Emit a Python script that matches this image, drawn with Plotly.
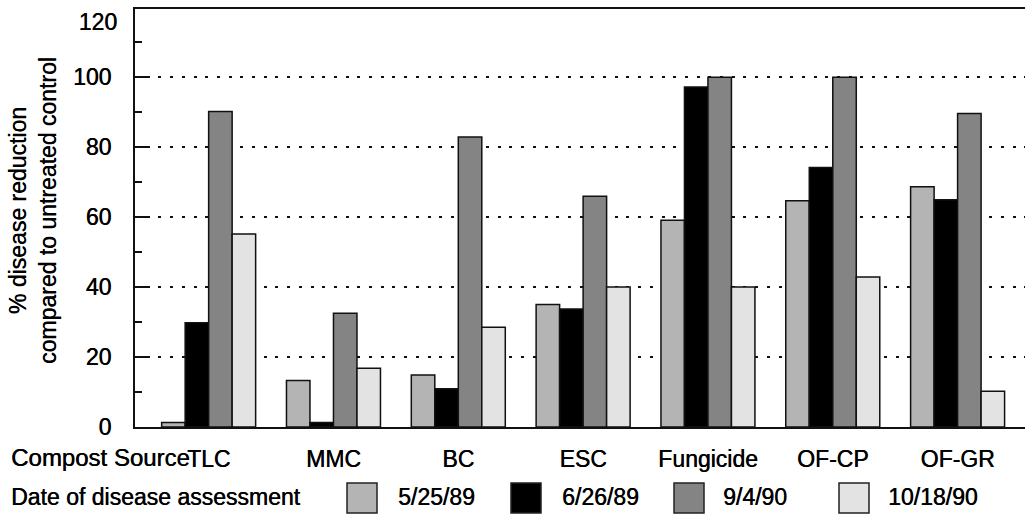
import plotly.graph_objects as go

categories = ["TLC", "MMC", "BC", "ESC", "Fungicide", "OF-CP", "OF-GR"]
dates = ["5/25/89", "6/26/89", "9/4/90", "10/18/90"]
v_5_25_89 = [1.3, 13.3, 14.9, 35.0, 59.1, 64.7, 68.7]
v_6_26_89 = [29.8, 1.3, 10.9, 33.7, 97.2, 74.2, 65.0]
v_9_4_90 = [90.2, 32.5, 82.9, 66.0, 100.0, 100.0, 89.6]
v_10_18_90 = [55.2, 16.8, 28.5, 40.0, 40.0, 42.9, 10.2]
series = [v_5_25_89, v_6_26_89, v_9_4_90, v_10_18_90]
colors = ["#b4b4b4", "#000000", "#848484", "#e3e3e3"]
y_ticks = [0, 20, 40, 60, 80, 100]
y_top_tick = [120]

W, H = 1025, 514
L, R, T, B = 135, 0, 9, 87
pw, ph = W - L - R, H - T - B

def px(x):
    return (x - L) / pw

def py(y):
    return (H - B - y) / ph

FONT = "Liberation Sans, Arial, Helvetica, sans-serif"
FS = 23
SHADOW = "0.45px 0 0 #000"

def f(size=FS):
    return dict(size=size, color="black", family=FONT, shadow=SHADOW)

fig = go.Figure()
for name, vals, col in zip(dates, series, colors):
    fig.add_trace(go.Bar(
        x=categories, y=vals, name=name,
        marker=dict(color=col, line=dict(color="#111111", width=1.5)),
        showlegend=False,
    ))
# carrier for the top tick-label axis (draws nothing)
fig.add_trace(go.Scatter(x=[categories[0]], y=[0], yaxis="y2", mode="markers",
                         marker=dict(opacity=0), showlegend=False, hoverinfo="skip"))

shapes = []
annotations = []
sw_left = [347, 511, 674, 839]
txt_left = [398, 562, 723, 888]
for name, col, sx, tx in zip(dates, colors, sw_left, txt_left):
    shapes.append(dict(type="rect", xref="paper", yref="paper",
                       x0=px(sx), x1=px(sx + 30), y0=py(513), y1=py(483),
                       fillcolor=col, line=dict(color="#222222", width=1.5)))
    annotations.append(dict(text=name, xref="paper", yref="paper",
                            x=px(tx - 2), y=py(497), xanchor="left", yanchor="middle",
                            showarrow=False, font=f()))

annotations.append(dict(text="Compost Source", xref="paper", yref="paper",
                        x=px(9), y=py(458), xanchor="left", yanchor="middle",
                        showarrow=False, font=f(24)))
annotations.append(dict(text="Date of disease assessment", xref="paper", yref="paper",
                        x=px(9), y=py(497), xanchor="left", yanchor="middle",
                        showarrow=False, font=f()))
annotations.append(dict(text="% disease reduction<br>compared to untreated control",
                        xref="paper", yref="paper", x=px(33), y=py(211),
                        xanchor="center", yanchor="middle", textangle=-90,
                        showarrow=False, font=f()))

fig.update_layout(
    width=W, height=H,
    margin=dict(l=L, r=R, t=T, b=B, pad=0, autoexpand=False),
    paper_bgcolor="white", plot_bgcolor="white",
    barmode="group", bargap=0.247, bargroupgap=0,
    font=f(),
    shapes=shapes, annotations=annotations,
    xaxis=dict(
        range=[-0.59, 6.54], showgrid=False, zeroline=False, automargin=False,
        showline=True, linecolor="#111111", linewidth=2, mirror=True,
        ticks="", ticklabelstandoff=10,
        tickfont=f(),
    ),
    yaxis=dict(
        range=[0, 119.5], tickvals=y_ticks, ticks="inside", ticklen=13, tickwidth=2,
        tickcolor="#111111", automargin=False,
        minor=dict(ticks="inside", ticklen=7, tickwidth=2, dtick=10, tick0=0,
                   tickcolor="#111111", showgrid=False),
        showline=True, linecolor="#111111", linewidth=2, mirror=False,
        showgrid=True, gridcolor="#111111", gridwidth=2, griddash="3px,8.7px",
        zeroline=False, ticklabelstandoff=17,
        tickfont=f(),
    ),
    yaxis2=dict(
        overlaying="y", side="left", range=[0, 120], tickvals=y_top_tick,
        ticks="", showgrid=False, showline=False, zeroline=False, automargin=False,
        ticklabelstandoff=17, ticklabelshift=13, ticklabeloverflow="allow",
        tickfont=f(),
    ),
)

fig.write_html("out.html", config={"displayModeBar": False},
               post_script="document.body.style.margin='0';")
